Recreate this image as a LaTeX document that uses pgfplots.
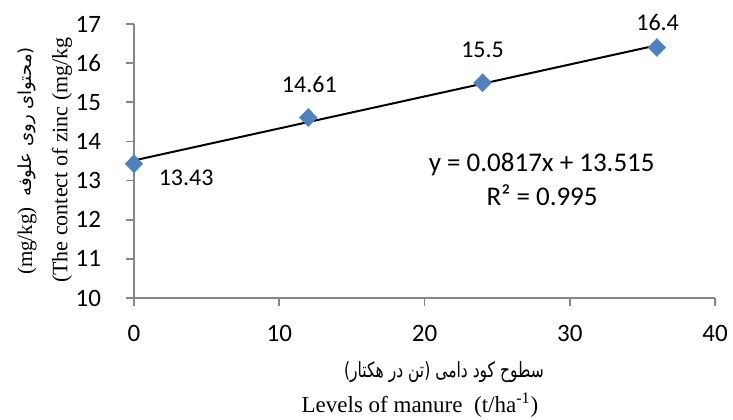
\documentclass[border=0pt]{standalone}
\usepackage{pgfplots}
\pgfplotsset{compat=1.18}
\usepackage{fontspec}
\setmainfont{Carlito}
\newfontfamily\timesf{Liberation Serif}
\newfontfamily\arabicfont[Script=Arabic]{DejaVu Sans}
\TeXXeTstate=1
\definecolor{axgray}{HTML}{868686}
\definecolor{mblue}{HTML}{4F81BD}
\begin{document}
\begin{tikzpicture}
\path[use as bounding box] (-67pt,-60.5pt) rectangle (299.5pt,149pt);
\begin{axis}[
  at={(0,0)}, anchor=south west, scale only axis,
  width=290.5pt, height=137pt,
  xmin=0, xmax=40, ymin=10, ymax=17,
  xtick={0,10,20,30,40}, ytick={10,11,12,13,14,15,16,17},
  axis lines=left, axis line style={axgray, line width=0.9pt, -},
  tick style={axgray, line width=0.8pt}, tick align=outside,
  major tick length=4pt,
  ticklabel style={font=\fontsize{12.5}{14}\selectfont, text=black},
  xticklabel style={yshift=-6pt},
  yticklabel style={xshift=-9pt},
  /pgf/number format/assume math mode=true,
  clip=false,
]
\addplot[black, line width=1pt, no marks] coordinates {(0,13.515) (36,16.456)};
\addplot[only marks, mark=diamond*, mark size=4.4pt,
  mark options={fill=mblue, draw=mblue, xscale=1.3}]
  coordinates {(0,13.43) (12,14.61) (24,15.5) (36,16.4)};
\node[font=\fontsize{12}{14}\selectfont] at (axis cs:3.59,13.07) {13.43};
\node[font=\fontsize{12}{14}\selectfont] at (axis cs:12.07,15.46) {14.61};
\node[font=\fontsize{12}{14}\selectfont] at (axis cs:24.0,16.35) {15.5};
\node[font=\fontsize{12}{14}\selectfont] at (axis cs:36.05,17.03) {16.4};
\node[font=\fontsize{13.5}{15}\selectfont] at (axis cs:28.07,13.40) {y = 0.0817x + 13.515};
\node[font=\fontsize{13.5}{15}\selectfont] at (axis cs:28.1,12.63) {R² = 0.995};
\end{axis}
\node[rotate=90, font=\timesf\fontsize{10.5}{12}\selectfont] at (-53.5pt,28.5pt) {(mg/kg)};
\node[rotate=90] at (-53.5pt,88pt)
  {\arabicfont\fontsize{9}{11}\selectfont\beginR(محتوای روی علوفه\endR};
\node[rotate=90, font=\timesf\fontsize{11}{12}\selectfont] at (-36pt,69pt)
  {(The contect of zinc (mg/kg};
\node at (155pt,-37pt)
  {\scalebox{0.74}[1]{\arabicfont\fontsize{10.5}{12}\selectfont\beginR سطوح کود دامی (تن در هکتار)\endR}};
\node[font=\timesf\fontsize{11.5}{12}\selectfont] at (143pt,-53.5pt)
  {Levels of manure\ \ (t/ha\textsuperscript{-1})};
\end{tikzpicture}
\end{document}
